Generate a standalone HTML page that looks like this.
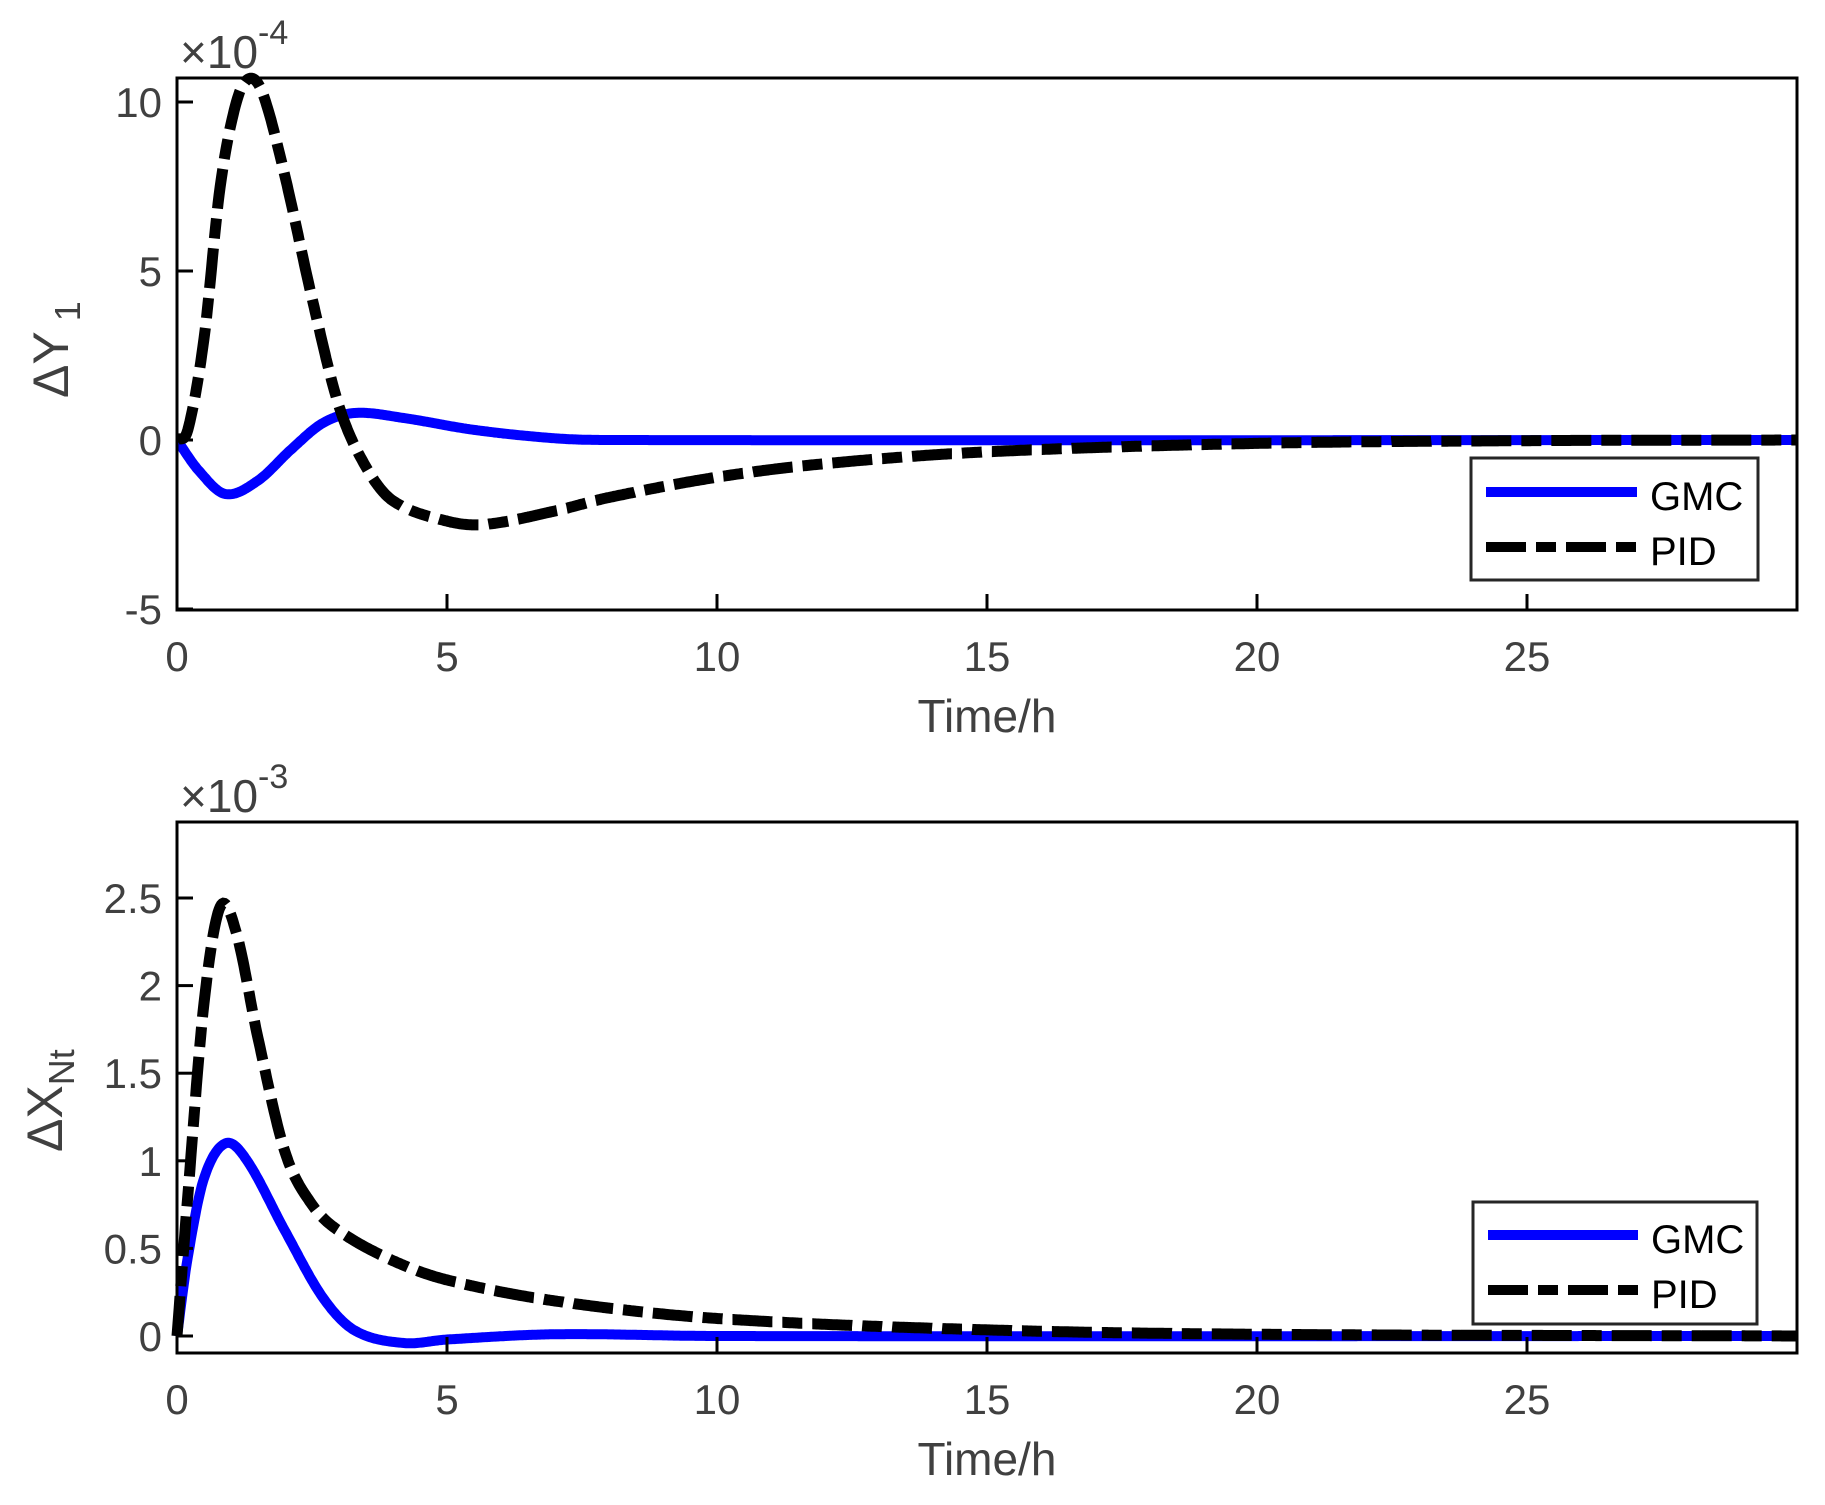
<!DOCTYPE html>
<html><head><meta charset="utf-8"><style>
body{margin:0;background:#fff}
svg text{font-family:"Liberation Sans",Arial,sans-serif;fill:#404040}
</style></head><body>
<svg id="s" width="1825" height="1500" xmlns="http://www.w3.org/2000/svg">
<defs>
<clipPath id="c1"><rect x="177" y="70" width="1620" height="540"/></clipPath>
<clipPath id="c2"><rect x="170" y="822" width="1627" height="531"/></clipPath>
</defs>
<g id="g1" clip-path="url(#c1)"></g>
<g id="g2" clip-path="url(#c2)"></g>
<g id="ax"></g>
<!-- legends -->
<rect x="1471" y="458" width="287" height="122" fill="#fff" stroke="#262626" stroke-width="3"/>
<line x1="1486" y1="492" x2="1637" y2="492" stroke="#0000ff" stroke-width="10"/>
<line x1="1486" y1="547" x2="1637" y2="547" stroke="#000" stroke-width="10" stroke-dasharray="40 10 20 10"/>
<text x="1650" y="510" font-size="40" style="fill:#000">GMC</text>
<text x="1650" y="565" font-size="40" style="fill:#000">PID</text>
<rect x="1473" y="1202" width="284" height="122" fill="#fff" stroke="#262626" stroke-width="3"/>
<line x1="1488" y1="1235" x2="1638" y2="1235" stroke="#0000ff" stroke-width="10"/>
<line x1="1488" y1="1290" x2="1638" y2="1290" stroke="#000" stroke-width="10" stroke-dasharray="40 10 20 10"/>
<text x="1651" y="1253" font-size="40" style="fill:#000">GMC</text>
<text x="1651" y="1308" font-size="40" style="fill:#000">PID</text>
<!-- labels -->
<text x="987" y="732" font-size="46" text-anchor="middle">Time/h</text>
<text x="987" y="1475" font-size="46" text-anchor="middle">Time/h</text>
<text transform="translate(68,398) rotate(-90)" font-size="50">ΔY<tspan dy="12" font-size="36"> 1</tspan></text>
<text transform="translate(62,1152) rotate(-90)" font-size="50">ΔX<tspan dy="12" font-size="36">Nt</tspan></text>
<text x="180" y="68" font-size="46">×10<tspan dy="-24" font-size="34">-4</tspan></text>
<text x="180" y="812" font-size="46">×10<tspan dy="-24" font-size="34">-3</tspan></text>
</svg>
<script>
const NS="http://www.w3.org/2000/svg";
function el(p,t,a){const e=document.createElementNS(NS,t);for(const k in a)e.setAttribute(k,a[k]);p.appendChild(e);return e;}
function interp(pts,t){for(let i=0;i<pts.length-1;i++){if(t<=pts[i+1][0]){const p0=pts[Math.max(0,i-1)],p1=pts[i],p2=pts[i+1],p3=pts[Math.min(pts.length-1,i+2)];
const h=p2[0]-p1[0],u=(t-p1[0])/h;const m1=(p2[1]-p0[1])/(p2[0]-p0[0])*h,m2=(p3[1]-p1[1])/(p3[0]-p1[0])*h;
const u2=u*u,u3=u2*u;return (2*u3-3*u2+1)*p1[1]+(u3-2*u2+u)*m1+(-2*u3+3*u2)*p2[1]+(u3-u2)*m2;}}return pts[pts.length-1][1];}
function path(pts,X,Y){let d="";for(let t=0;t<=30;t+=0.02){d+=(d?"L":"M")+X(t).toFixed(1)+","+Y(interp(pts,t)).toFixed(1);}return d;}
const X=t=>177+t*54;
const Y1=v=>440-v*33.8, Y2=v=>1336-v*175.2;
const gt=[[0,0],[0.4,-0.9],[0.9,-1.6],[1.5,-1.2],[2.1,-0.3],[2.7,0.5],[3.3,0.8],[4.2,0.65],[5.5,0.3],[7,0.05],[8,0],[30,0]];
const pt=[[0,0],[0.2,0.3],[0.5,3],[0.8,7.5],[1.1,10],[1.35,10.7],[1.6,10.2],[2,7.8],[2.5,4.2],[3,1],[3.5,-0.8],[4,-1.8],[5,-2.4],[5.7,-2.5],[7,-2.1],[8,-1.7],[10,-1.1],[12,-0.7],[15,-0.35],[20,-0.1],[25,-0.02],[30,0]];
const gb=[[0,0],[0.2,0.45],[0.5,0.9],[0.9,1.1],[1.3,1.0],[2,0.6],[2.7,0.22],[3.3,0.03],[4.2,-0.04],[5,-0.02],[7,0.01],[10,0],[30,0]];
const pb=[[0,0],[0.2,0.8],[0.5,1.9],[0.8,2.45],[1.1,2.3],[1.5,1.7],[2,1.05],[2.5,0.75],[3,0.6],[4,0.43],[5,0.32],[7,0.2],[10,0.1],[15,0.035],[20,0.01],[30,0]];
const g1=document.getElementById("g1"),g2=document.getElementById("g2");
el(g1,"path",{d:path(gt,X,Y1),fill:"none",stroke:"#0000ff","stroke-width":10});
el(g1,"path",{d:path(pt,X,Y1),fill:"none",stroke:"#000","stroke-width":11,"stroke-dasharray":"40 10 20 10"});
el(g2,"path",{d:path(gb,X,Y2),fill:"none",stroke:"#0000ff","stroke-width":10});
el(g2,"path",{d:path(pb,X,Y2),fill:"none",stroke:"#000","stroke-width":11,"stroke-dasharray":"40 10 20 10"});
const ax=document.getElementById("ax");
function axes(top,bot,Y,yt,lab){el(ax,"rect",{x:177,y:top,width:1620,height:bot-top,fill:"none",stroke:"#000","stroke-width":3});
for(let t=0;t<=25;t+=5){el(ax,"line",{x1:X(t),y1:bot,x2:X(t),y2:bot-16,stroke:"#000","stroke-width":3});
const tx=el(ax,"text",{x:X(t),y:bot+61,"font-size":42,"text-anchor":"middle"});tx.textContent=t;}
yt.forEach((v,i)=>{el(ax,"line",{x1:177,y1:Y(v),x2:193,y2:Y(v),stroke:"#000","stroke-width":3});
const tx=el(ax,"text",{x:162,y:Y(v)+15,"font-size":42,"text-anchor":"end"});tx.textContent=lab[i];});}
axes(78,610,Y1,[-5,0,5,10],["-5","0","5","10"]);
axes(822,1353,Y2,[0,0.5,1,1.5,2,2.5],["0","0.5","1","1.5","2","2.5"]);
</script>
</body></html>
